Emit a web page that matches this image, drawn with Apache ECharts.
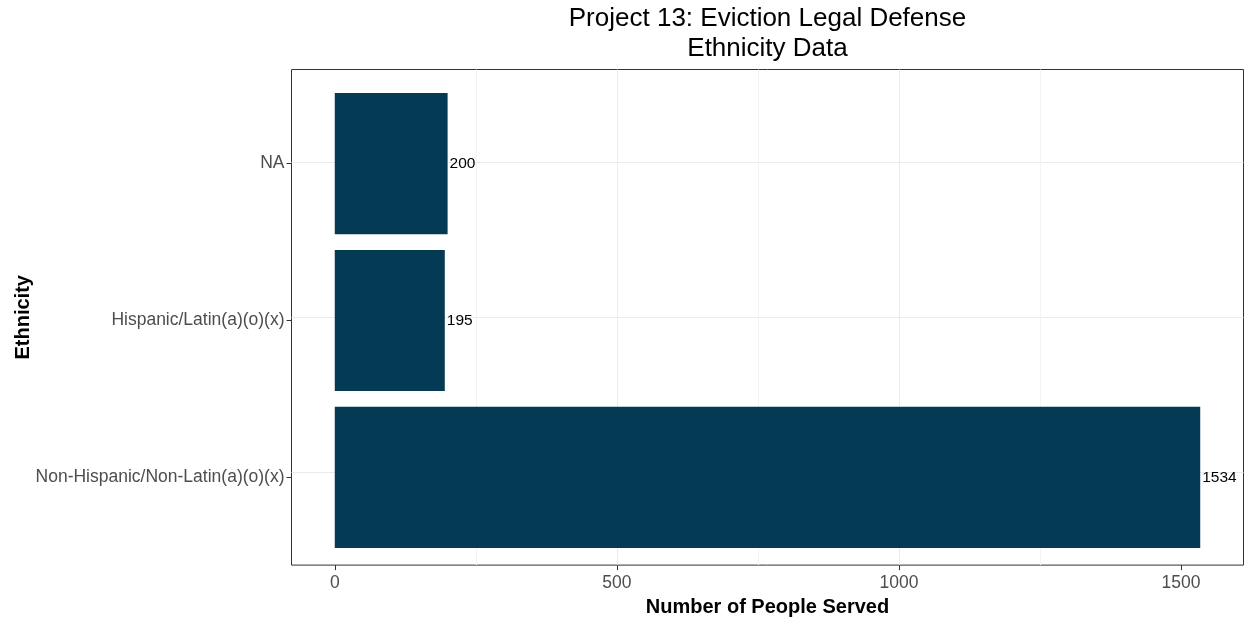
<!DOCTYPE html>
<html><head><meta charset="utf-8">
<script src="https://cdn.jsdelivr.net/npm/echarts@6/dist/echarts.min.js"></script>
<style>html,body{margin:0;padding:0;background:#fff}#chart{width:1247px;height:622px}</style>
</head><body><div id="chart"></div>
<script>
// ---- data ----
const categories = ['Non-Hispanic/Non-Latin(a)(o)(x)', 'Hispanic/Latin(a)(o)(x)', 'NA'];
const served = [1534, 195, 200];
const xTicks = [0, 500, 1000, 1500];
const xMinorBreaks = [250, 750, 1250];
const titleLines = ['Project 13: Eviction Legal Defense', 'Ethnicity Data'];
const xAxisTitle = 'Number of People Served';
const yAxisTitle = 'Ethnicity';

// ---- layout / style ----
const FONT = "'Liberation Sans', Arial, Helvetica, sans-serif";
const panel = {left: 291.5, top: 69.5, right: 1243.5, bottom: 571.5};
const maxV = Math.max(...served);
const xMin = -0.05 * maxV, xMax = maxV * 1.05;
const yMin = 0.4, yMax = categories.length + 0.6;
const unit = (panel.bottom - panel.top) / (yMax - yMin);
const pw = panel.right - panel.left, ph = panel.bottom - panel.top;
const barTop = panel.top + (yMax - (categories.length + 0.5)) * unit;
const barH = categories.length * unit;

const chart = echarts.init(document.getElementById('chart'), null, {renderer: 'canvas'});
chart.setOption({
  animation: false,
  backgroundColor: '#ffffff',
  textStyle: {fontFamily: FONT},
  graphic: [{
    type: 'text', x: (panel.left + panel.right) / 2, y: 4, z: 10,
    style: {text: titleLines.join('\n'), fontSize: 26, fontFamily: FONT, lineHeight: 30,
      align: 'center', verticalAlign: 'top', fill: '#000'}
  }],
  grid: [
    {left: panel.left, top: panel.top, width: pw, height: ph, show: true,
      borderColor: '#333333', borderWidth: 1, backgroundColor: 'transparent', containLabel: false},
    {left: panel.left, top: barTop, width: pw, height: barH, containLabel: false}
  ],
  xAxis: [
    {gridIndex: 0, type: 'value', min: xMin, max: xMax, splitNumber: 4,
      axisLine: {show: false, onZero: false},
      axisTick: {show: true, customValues: xTicks, length: 5, lineStyle: {color: '#333333'}},
      axisLabel: {customValues: xTicks, color: '#4d4d4d', fontSize: 17.5, margin: 9, fontFamily: FONT,
        formatter: v => String(v)},
      splitLine: {show: true, showMinLine: false, showMaxLine: false, lineStyle: {color: '#ebebeb', width: 1}},
      name: xAxisTitle, nameLocation: 'middle', nameGap: 27,
      nameTextStyle: {fontSize: 20, fontWeight: 'bold', color: '#000', fontFamily: FONT}},
    {gridIndex: 1, type: 'value', min: xMin, max: xMax, show: false, axisLine: {onZero: false}}
  ],
  yAxis: [
    {gridIndex: 0, type: 'value', min: yMin, max: yMax, splitNumber: 3,
      axisLine: {show: false, onZero: false}, axisTick: {show: false}, axisLabel: {show: false},
      splitLine: {show: true, showMinLine: false, showMaxLine: false, lineStyle: {color: '#ebebeb', width: 1}},
      name: yAxisTitle, nameLocation: 'middle', nameGap: 258, nameRotate: 90,
      nameTextStyle: {fontSize: 20, fontWeight: 'bold', color: '#000', fontFamily: FONT}},
    {gridIndex: 1, type: 'category', data: categories,
      axisLine: {show: false, onZero: false},
      axisTick: {show: true, alignWithLabel: true, length: 5, lineStyle: {color: '#333333'}},
      axisLabel: {color: '#4d4d4d', fontSize: 17.5, margin: 7, fontFamily: FONT},
      splitLine: {show: false}}
  ],
  series: [
    {type: 'line', xAxisIndex: 0, yAxisIndex: 0, data: [], silent: true, z: 0,
      markLine: {silent: true, symbol: 'none', label: {show: false}, animation: false, z: 0,
        lineStyle: {color: '#f3f3f3', width: 1, type: 'solid'},
        data: xMinorBreaks.map(v => ({xAxis: v}))}},
    {type: 'bar', xAxisIndex: 1, yAxisIndex: 1, data: served, barWidth: '90%', z: 2,
      itemStyle: {color: '#043a54'},
      label: {show: true, position: 'right', distance: 2, color: '#000', fontSize: 15.5, fontFamily: FONT}}
  ]
});
</script></body></html>
